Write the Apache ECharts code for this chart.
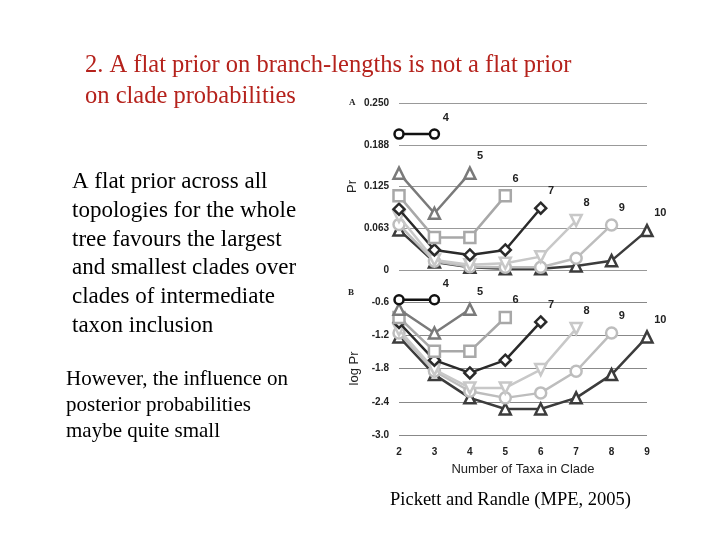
<!DOCTYPE html>
<html><head><meta charset="utf-8">
<script src="https://cdn.jsdelivr.net/npm/echarts@6/dist/echarts.min.js"></script>
<style>html,body{margin:0;padding:0;background:#fff}#c{width:720px;height:540px}</style>
</head><body><div id="c"></div>
<script>
const taxaCounts = [4,5,6,7,8,9,10];
const xTicks = [2,3,4,5,6,7,8,9];
const prA = {
  4:[0.2035,0.2035],
  5:[0.145,0.085,0.145],
  6:[0.111,0.0485,0.0485,0.111],
  7:[0.091,0.03,0.0225,0.03,0.0925],
  8:[0.08,0.015,0.008,0.01,0.02,0.074],
  9:[0.068,0.013,0.005,0.004,0.004,0.0175,0.0675],
  10:[0.06,0.012,0.004,0.002,0.002,0.006,0.014,0.059]
};
const logPrB = {
  4:[-0.56,-0.56],
  5:[-0.73,-1.16,-0.73],
  6:[-0.88,-1.49,-1.49,-0.88],
  7:[-0.97,-1.65,-1.88,-1.65,-0.96],
  8:[-1.1,-1.82,-2.15,-2.15,-1.82,-1.08],
  9:[-1.16,-1.85,-2.21,-2.33,-2.24,-1.85,-1.16],
  10:[-1.23,-1.91,-2.33,-2.53,-2.53,-2.33,-1.91,-1.23]
};
const colors = {4:'#111',5:'#7a7a7a',6:'#a8a8a8',7:'#2a2a2a',8:'#c8c8c8',9:'#bdbdbd',10:'#3c3c3c'};
const symbols = {4:'circle',5:'triangle',6:'rect',7:'diamond',8:'path://M0,0L10,0L5,9Z',9:'circle',10:'triangle'};

function mk(dataset, idx){
  return taxaCounts.map(n=>({
    type:'line', xAxisIndex:idx, yAxisIndex:idx, name:String(n), clip:false,
    data: dataset[n].map((v,i)=>[xTicks[0]+i, v]),
    symbol: symbols[n], symbolSize: n===4?9:11, showAllSymbol:true,
    lineStyle:{color:colors[n], width:2.5},
    itemStyle:{color:'#fff', borderColor:colors[n], borderWidth:2.5},
    z: 20 - n,
    label:{show:true, formatter:p=>p.dataIndex===dataset[n].length-1?String(n):'',
      position:[14,-16], fontFamily:'Arial', fontSize:11, fontWeight:'bold', color:'#222'},
    animation:false
  }));
}
const serif = '"Liberation Serif","Times New Roman",serif';
const chart = echarts.init(document.getElementById('c'));
const fmtA = v=>({0:'0',0.0625:'0.063',0.125:'0.125',0.1875:'0.188',0.25:'0.250'}[v] ?? '');
chart.setOption({
  animation:false,
  grid:[{left:399,top:103,width:248,height:167},{left:399,top:302,width:248,height:133}],
  xAxis:[
    {gridIndex:0,type:'value',min:2,max:9,interval:1,show:false},
    {gridIndex:1,type:'value',min:2,max:9,interval:1,axisLine:{show:false},axisTick:{show:false},splitLine:{show:false},
     axisLabel:{fontFamily:'Arial',fontSize:10,fontWeight:'bold',color:'#222',margin:12},
     name:'Number of Taxa in Clade',nameLocation:'middle',nameGap:28,nameTextStyle:{fontFamily:'Arial',fontSize:13,color:'#222'}}
  ],
  yAxis:[
    {gridIndex:0,type:'value',min:0,max:0.25,interval:0.0625,axisLine:{show:false},axisTick:{show:false},
     splitLine:{lineStyle:{color:'#999',width:1}},
     axisLabel:{formatter:fmtA,fontFamily:'Arial',fontSize:10,fontWeight:'bold',color:'#222',margin:10},
     name:'Pr',nameLocation:'middle',nameGap:40,nameTextStyle:{fontFamily:'Arial',fontSize:13,color:'#222'}},
    {gridIndex:1,type:'value',min:-3.0,max:-0.6,interval:0.6,axisLine:{show:false},axisTick:{show:false},
     splitLine:{lineStyle:{color:'#888',width:1}},
     axisLabel:{formatter:v=>v.toFixed(1),fontFamily:'Arial',fontSize:10,fontWeight:'bold',color:'#222',margin:10},
     name:'log Pr',nameLocation:'middle',nameGap:38,nameTextStyle:{fontFamily:'Arial',fontSize:13,color:'#222'}}
  ],
  series:[...mk(prA,0),...mk(logPrB,1)],
  graphic:[
    {type:'text',left:85,top:50,style:{text:'2. A flat prior on branch-lengths is not a flat prior\non clade probabilities',font:'24.5px '+serif,fill:'#b5221c',lineHeight:31}},
    {type:'text',left:72,top:168,style:{text:'A flat prior across all\ntopologies for the whole\ntree favours the largest\nand smallest clades over\nclades of intermediate\ntaxon inclusion',font:'23px '+serif,fill:'#000',lineHeight:28.7}},
    {type:'text',left:66,top:366,style:{text:'However, the influence on\nposterior probabilities\nmaybe quite small',font:'21px '+serif,fill:'#000',lineHeight:26}},
    {type:'text',left:390,top:491,style:{text:'Pickett and Randle (MPE, 2005)',font:'18.5px '+serif,fill:'#000'}},
    {type:'text',left:349,top:98,style:{text:'A',font:'bold 9px '+serif,fill:'#222'}},
    {type:'text',left:348,top:288,style:{text:'B',font:'bold 9px '+serif,fill:'#222'}}
  ]
});
</script></body></html>
